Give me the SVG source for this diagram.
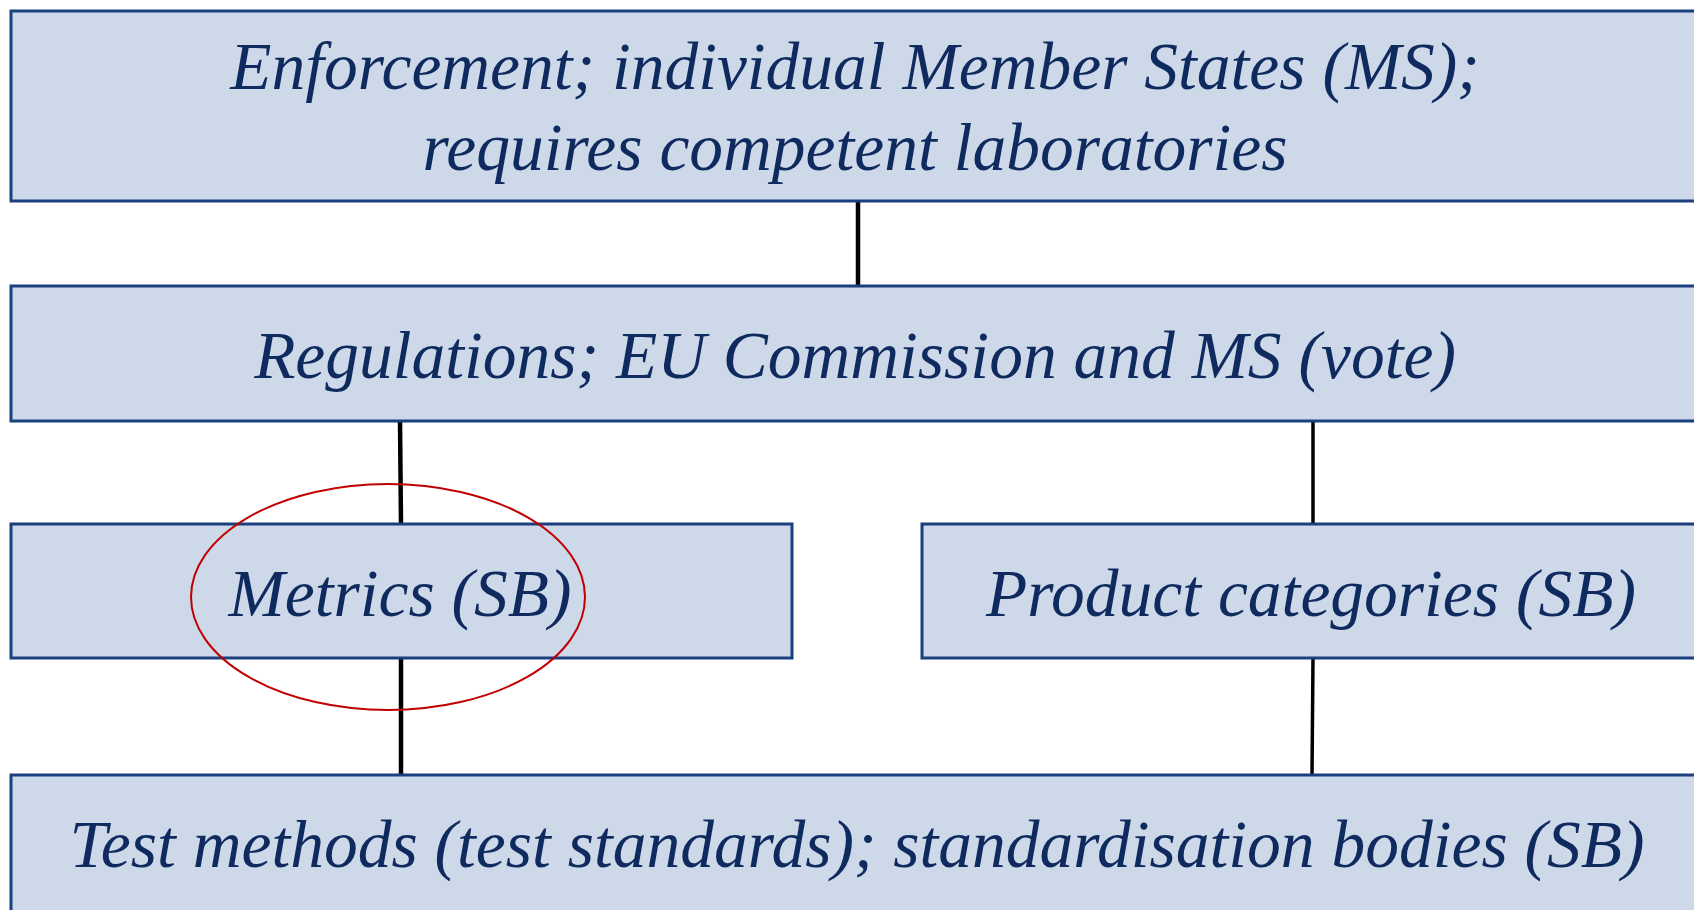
<svg xmlns="http://www.w3.org/2000/svg" width="1694" height="910" viewBox="0 0 1694 910">
  <style>
    .box { fill: #cdd8e9; stroke: #1b3f7f; stroke-width: 3; }
    .label { font-family: "Liberation Serif", "Times New Roman", serif; font-style: italic; font-size: 67.5px; fill: #0f2a5e; text-anchor: middle; }
    .link { stroke: #000; stroke-width: 4.5; fill: none; }
    .link.thin { stroke-width: 3.5; }
    .mark { fill: none; stroke: #c00000; stroke-width: 2; }
  </style>
  <rect width="1694" height="910" fill="#ffffff"/>

  <!-- connectors between levels -->
  <g id="connectors">
    <line class="link" x1="858" y1="201" x2="858" y2="286"/>
    <line class="link" x1="400" y1="421" x2="401" y2="524"/>
    <line class="link thin" x1="1313" y1="421" x2="1313" y2="524"/>
    <line class="link" x1="401" y1="658" x2="401" y2="775"/>
    <line class="link thin" x1="1313" y1="658" x2="1312" y2="775"/>
  </g>

  <g id="enforcement">
    <rect class="box" x="11" y="11" width="1700" height="190"/>
    <text class="label" x="855" y="89">Enforcement; individual Member States (MS);</text>
    <text class="label" x="855" y="170">requires competent laboratories</text>
  </g>

  <g id="regulations">
    <rect class="box" x="11" y="286" width="1700" height="135"/>
    <text class="label" x="855" y="378">Regulations; EU Commission and MS (vote)</text>
  </g>

  <g id="metrics">
    <rect class="box" x="11" y="524" width="781" height="134"/>
    <text class="label" x="400" y="616">Metrics (SB)</text>
  </g>

  <g id="product-categories">
    <rect class="box" x="922" y="524" width="800" height="134"/>
    <text class="label" x="1311" y="616">Product categories (SB)</text>
  </g>

  <g id="test-methods">
    <rect class="box" x="11" y="775" width="1700" height="150"/>
    <text class="label" x="857" y="867">Test methods (test standards); standardisation bodies (SB)</text>
  </g>

  <!-- highlight ring around the metrics node -->
  <ellipse id="highlight" class="mark" cx="388" cy="597" rx="197" ry="113"/>
</svg>
